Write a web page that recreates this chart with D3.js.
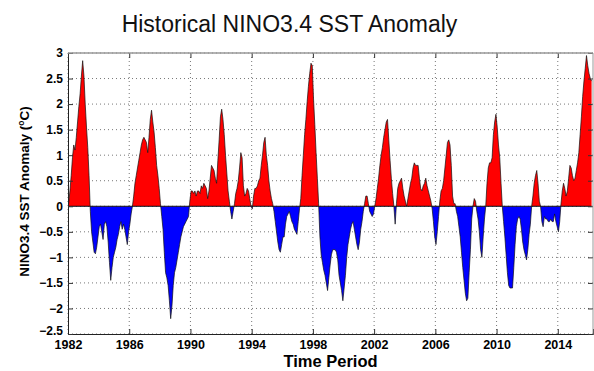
<!DOCTYPE html>
<html>
<head>
<meta charset="utf-8">
<script src="https://cdn.jsdelivr.net/npm/d3@7"></script>
<style>
  body { margin: 0; background: #fff; }
  #wrapper { width: 594px; height: 371px; }
  text { font-family: "Liberation Sans", Arial, Helvetica, sans-serif; }
</style>
</head>
<body>
<div id="wrapper"></div>
<script>
// ---------- DATA (monthly NINO3.4 anomaly) ---------------------------------
const startYear = 1982;
const anomaly = [
  0.05, 0.3, 0.6, 0.95, 1.2, 1.1, 1.35, 1.65, 1.95, 2.2, 2.55, 2.85,        // 1982
  2.55, 2.0, 1.55, 1.15, 0.6, -0.1, -0.5, -0.7, -0.9, -0.93, -0.8, -0.6,    // 1983
  -0.4, -0.35, -0.5, -0.65, -0.35, -0.3, -0.4, -0.7, -1.1, -1.45, -1.2, -1.0, // 1984
  -0.9, -0.8, -0.65, -0.55, -0.4, -0.3, -0.45, -0.35, -0.45, -0.6, -0.75, -0.5, // 1985
  -0.35, -0.15, 0.0, 0.2, 0.45, 0.6, 0.75, 0.9, 1.05, 1.2, 1.3, 1.35,       // 1986
  1.3, 1.25, 1.05, 1.35, 1.7, 1.88, 1.65, 1.45, 1.15, 0.8, 0.6, 0.35,       // 1987
  0.05, -0.2, -0.45, -0.9, -1.3, -1.4, -1.55, -1.85, -2.2, -1.95, -1.55, -1.3, // 1988
  -1.2, -1.05, -0.9, -0.75, -0.6, -0.5, -0.4, -0.35, -0.3, -0.25, -0.2, 0.1, // 1989
  0.3, 0.3, 0.25, 0.3, 0.2, 0.3, 0.3, 0.25, 0.4, 0.35, 0.45, 0.4,           // 1990
  0.35, 0.15, 0.3, 0.55, 0.8, 0.75, 0.7, 0.55, 0.45, 0.9, 1.3, 1.75,        // 1991
  1.9, 1.7, 1.4, 1.0, 0.65, 0.3, 0.1, -0.1, -0.25, -0.1, 0.05, 0.25,        // 1992
  0.35, 0.5, 0.75, 1.05, 0.95, 0.4, 0.2, 0.25, 0.35, 0.3, 0.15, 0.0,        // 1993
  -0.05, 0.2, 0.35, 0.35, 0.4, 0.5, 0.55, 0.8, 1.0, 1.25, 1.35, 1.0,        // 1994
  0.8, 0.5, 0.3, 0.15, 0.05, -0.1, -0.3, -0.5, -0.7, -0.85, -0.9, -0.75,    // 1995
  -0.6, -0.6, -0.35, -0.2, -0.15, -0.1, -0.2, -0.3, -0.35, -0.45, -0.5, -0.55, // 1996
  -0.3, -0.05, 0.15, 0.6, 1.0, 1.4, 1.7, 2.05, 2.35, 2.6, 2.8, 2.75,        // 1997
  2.1, 1.6, 1.05, 0.55, 0.05, -0.6, -0.95, -1.1, -1.25, -1.35, -1.5, -1.65, // 1998
  -1.4, -1.15, -0.95, -0.85, -0.85, -0.85, -0.9, -1.05, -1.35, -1.5, -1.65, -1.85, // 1999
  -1.6, -1.35, -1.0, -0.75, -0.6, -0.45, -0.35, -0.3, -0.45, -0.6, -0.75, -0.85, // 2000
  -0.7, -0.45, -0.3, -0.1, 0.05, 0.2, 0.2, 0.05, -0.1, -0.15, -0.2, -0.15,  // 2001
  0.0, 0.15, 0.35, 0.55, 0.8, 1.0, 1.15, 1.35, 1.5, 1.65, 1.7, 1.3,         // 2002
  0.9, 0.55, 0.25, 0.0, -0.35, 0.05, 0.35, 0.45, 0.5, 0.55, 0.35, 0.2,      // 2003
  0.1, 0.0, 0.15, 0.3, 0.45, 0.55, 0.75, 0.85, 0.8, 0.8, 0.8, 0.55,         // 2004
  0.35, 0.3, 0.4, 0.45, 0.55, 0.4, 0.3, 0.2, 0.1, -0.05, -0.3, -0.6,        // 2005
  -0.75, -0.5, -0.2, 0.1, 0.3, 0.35, 0.5, 0.75, 1.0, 1.25, 1.3, 1.2,        // 2006
  0.8, 0.2, 0.05, 0.05, -0.1, -0.2, -0.4, -0.6, -0.9, -1.2, -1.45, -1.7,    // 2007
  -1.85, -1.8, -1.3, -0.85, -0.25, 0.0, 0.15, 0.1, -0.1, -0.25, -0.5, -0.85, // 2008
  -1.0, -0.6, -0.25, 0.0, 0.45, 0.75, 0.85, 0.85, 0.95, 1.4, 1.65, 1.8,     // 2009
  1.55, 1.2, 0.95, 0.45, 0.0, -0.3, -0.6, -0.95, -1.3, -1.55, -1.6, -1.6,   // 2010
  -1.6, -1.2, -0.75, -0.4, -0.25, -0.2, -0.25, -0.45, -0.7, -0.85, -0.95, -1.05, // 2011
  -0.85, -0.55, -0.35, 0.0, 0.2, 0.45, 0.6, 0.7, 0.45, 0.1, 0.0, -0.3,      // 2012
  -0.4, -0.2, -0.25, -0.25, -0.3, -0.3, -0.25, -0.3, -0.3, -0.15, -0.3, -0.4, // 2013
  -0.5, -0.3, 0.05, 0.3, 0.45, 0.35, 0.2, 0.3, 0.55, 0.8, 0.75, 0.6,        // 2014
  0.5, 0.55, 0.7, 0.85, 1.05, 1.4, 1.75, 2.15, 2.45, 2.7, 2.95, 2.75,       // 2015
  2.6, 2.5, 2.45                                                            // 2016
];
const xTickYears = [1982, 1986, 1990, 1994, 1998, 2002, 2006, 2010, 2014];
const yTickValues = [-2.5, -2, -1.5, -1, -0.5, 0, 0.5, 1, 1.5, 2, 2.5, 3];
const titleText = "Historical NINO3.4 SST Anomaly";
const xLabelText = "Time Period";

function drawChart() {

  // ---------- DIMENSIONS ----------------------------------------
  let dimensions = {
    width: 594,
    height: 371,
    margin: { top: 53, right: 1, bottom: 37, left: 68 },
  };
  dimensions.boundedWidth =
    dimensions.width - dimensions.margin.left - dimensions.margin.right;
  dimensions.boundedHeight =
    dimensions.height - dimensions.margin.top - dimensions.margin.bottom;

  const dataset = anomaly.map((v, i) => ({ t: startYear + (i + 0.5) / 12, v: v }));

  // ---------- SVG ----------------------------------------
  const svg = d3.select("#wrapper")
    .append("svg")
    .attr("width", dimensions.width)
    .attr("height", dimensions.height)
    .style("background", "#fff");

  const boundingBox = svg.append("g")
    .attr("transform", `translate(${dimensions.margin.left},${dimensions.margin.top})`);

  // ---------- SCALES ----------------------------------------
  const xScale = d3.scaleLinear()
    .domain([1982, 2016.3])
    .range([0, dimensions.boundedWidth]);

  const yScale = d3.scaleLinear()
    .domain([-2.5, 3])
    .range([dimensions.boundedHeight, 0]);

  const zeroY = yScale(0);

  // ---------- GRID (dotted, like matlab grid on) ----------------------------
  const grid = boundingBox.append("g").attr("class", "grid");
  grid.selectAll(".gx").data(xTickYears).join("line")
    .attr("x1", d => xScale(d)).attr("x2", d => xScale(d))
    .attr("y1", 0).attr("y2", dimensions.boundedHeight)
    .attr("stroke", "#777").attr("stroke-width", 1)
    .attr("stroke-dasharray", "1,3");
  grid.selectAll(".gy").data(yTickValues).join("line")
    .attr("x1", 0).attr("x2", dimensions.boundedWidth)
    .attr("y1", d => yScale(d)).attr("y2", d => yScale(d))
    .attr("stroke", "#777").attr("stroke-width", 1)
    .attr("stroke-dasharray", "1,3");

  // ---------- AREAS (red above zero, blue below) ----------------------------
  const defs = svg.append("defs");
  defs.append("clipPath").attr("id", "clip-pos")
    .append("rect")
    .attr("x", 0).attr("y", 0)
    .attr("width", dimensions.boundedWidth).attr("height", zeroY);
  defs.append("clipPath").attr("id", "clip-neg")
    .append("rect")
    .attr("x", 0).attr("y", zeroY)
    .attr("width", dimensions.boundedWidth)
    .attr("height", dimensions.boundedHeight - zeroY);

  const areaGenerator = d3.area()
    .x(d => xScale(d.t))
    .y0(zeroY)
    .y1(d => yScale(d.v));

  boundingBox.append("path")
    .datum(dataset)
    .attr("d", areaGenerator)
    .attr("fill", "#ff0000")
    .attr("clip-path", "url(#clip-pos)");

  boundingBox.append("path")
    .datum(dataset)
    .attr("d", areaGenerator)
    .attr("fill", "#0000ff")
    .attr("clip-path", "url(#clip-neg)");

  // black edge on the curve and the zero line
  const lineGenerator = d3.line()
    .x(d => xScale(d.t))
    .y(d => yScale(d.v));

  boundingBox.append("path")
    .datum(dataset)
    .attr("d", lineGenerator)
    .attr("fill", "none")
    .attr("stroke", "#111")
    .attr("stroke-width", 0.7);

  boundingBox.append("line")
    .attr("x1", xScale(dataset[0].t))
    .attr("x2", xScale(dataset[dataset.length - 1].t))
    .attr("y1", zeroY).attr("y2", zeroY)
    .attr("stroke", "#111").attr("stroke-width", 1);

  // ---------- AXES ----------------------------------------
  const numFormat = d3.format("");

  const xAxis = boundingBox.append("g")
    .attr("transform", `translate(0,${dimensions.boundedHeight})`)
    .call(d3.axisBottom(xScale).tickValues(xTickYears).tickFormat(d3.format("d"))
      .tickSize(-5).tickPadding(6));
  xAxis.selectAll("text")
    .attr("font-size", 12.5).attr("font-weight", "bold").attr("fill", "#000");

  const yAxis = boundingBox.append("g")
    .call(d3.axisLeft(yScale).tickValues(yTickValues).tickFormat(numFormat)
      .tickSize(-5).tickPadding(5));
  yAxis.selectAll("text")
    .attr("font-size", 12).attr("font-weight", "bold").attr("fill", "#000");
  // lowest label sits a little higher so it clears the first year label
  yAxis.selectAll(".tick text").filter(d => d === yTickValues[0])
    .attr("dy", "0.0em");

  // top and right ticks of the box
  boundingBox.append("g")
    .call(d3.axisTop(xScale).tickValues(xTickYears).tickFormat("").tickSize(-5))
    .select(".domain").remove();
  boundingBox.append("g")
    .attr("transform", `translate(${dimensions.boundedWidth},0)`)
    .call(d3.axisRight(yScale).tickValues(yTickValues).tickFormat("").tickSize(-5))
    .select(".domain").remove();

  boundingBox.selectAll(".domain").attr("stroke", "#222");
  boundingBox.selectAll(".tick line").attr("stroke", "#333");

  // box top / right
  boundingBox.append("line")
    .attr("x1", 0).attr("x2", dimensions.boundedWidth)
    .attr("y1", 0).attr("y2", 0)
    .attr("stroke", "#999").attr("stroke-width", 1.5);
  boundingBox.append("line")
    .attr("x1", dimensions.boundedWidth).attr("x2", dimensions.boundedWidth)
    .attr("y1", 0).attr("y2", dimensions.boundedHeight)
    .attr("stroke", "#999").attr("stroke-width", 1);

  // ---------- LABELS ----------------------------------------
  svg.append("text")
    .attr("x", 289.5)
    .attr("y", 32)
    .attr("text-anchor", "middle")
    .attr("font-size", 23)
    .attr("fill", "#111")
    .text(titleText);

  svg.append("text")
    .attr("x", dimensions.margin.left + dimensions.boundedWidth / 2)
    .attr("y", 367)
    .attr("text-anchor", "middle")
    .attr("font-size", 16.5)
    .attr("font-weight", "bold")
    .text(xLabelText);

  const yLabel = svg.append("text")
    .attr("transform", `translate(29,${dimensions.margin.top + dimensions.boundedHeight / 2 - 2}) rotate(-90)`)
    .attr("text-anchor", "middle")
    .attr("font-size", 13.5)
    .attr("font-weight", "bold");
  yLabel.append("tspan").text("NINO3.4 SST Anomaly (");
  yLabel.append("tspan").attr("baseline-shift", "super").attr("font-size", 8.5).text("o");
  yLabel.append("tspan").text("C)");
}

drawChart();
</script>
</body>
</html>
